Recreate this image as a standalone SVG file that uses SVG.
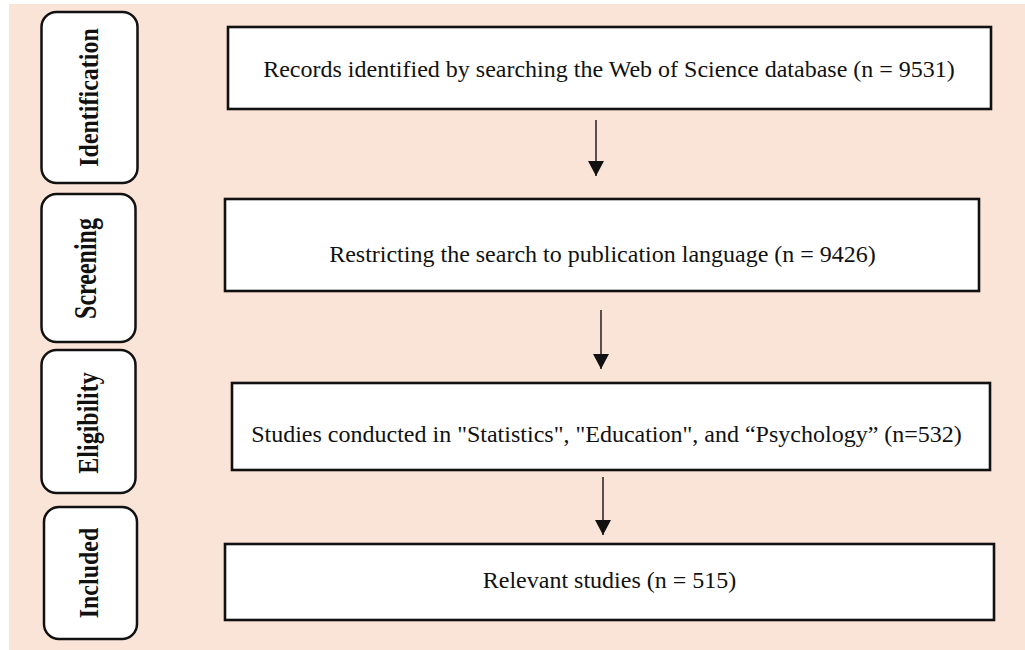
<svg xmlns="http://www.w3.org/2000/svg" width="1025" height="650" viewBox="0 0 1025 650">
  <defs>
    <style>
      .stage { fill: #ffffff; stroke: #111111; stroke-width: 2.5; }
      .step { fill: #ffffff; stroke: #111111; stroke-width: 2.6; }
      .stage-label { font-family: "Liberation Serif", "Times New Roman", serif; font-weight: bold; font-size: 24px; fill: #111111; text-anchor: middle; }
      .step-label { font-family: "Liberation Serif", "Times New Roman", serif; font-size: 24px; fill: #111111; text-anchor: middle; }
      .flow { stroke: #111111; stroke-width: 1.4; fill: none; }
    </style>
    <!-- filled triangular head, tip at the end of the line -->
    <marker id="arrowhead" markerUnits="userSpaceOnUse" markerWidth="15" markerHeight="16" refX="15" refY="8" orient="auto" viewBox="0 0 15 16">
      <path d="M0,0 L15,8 L0,16 Z" fill="#111111"/>
    </marker>
  </defs>

  <!-- page background -->
  <rect x="9" y="4" width="1016" height="646" fill="#fae3d7"/>

  <!-- stage labels -->
  <g id="stage-identification">
    <rect class="stage" x="41.5" y="12" width="96" height="171" rx="15"/>
    <text class="stage-label" transform="translate(98 97.5) rotate(-90) scale(1 1.18)">Identification</text>
  </g>
  <g id="stage-screening">
    <rect class="stage" x="41.5" y="194" width="94" height="148" rx="15"/>
    <text class="stage-label" transform="translate(95.5 268.5) rotate(-90) scale(1 1.32)">Screening</text>
  </g>
  <g id="stage-eligibility">
    <rect class="stage" x="41.5" y="350" width="94" height="143" rx="15"/>
    <text class="stage-label" transform="translate(98 423) rotate(-90) scale(1 1.25)">Eligibility</text>
  </g>
  <g id="stage-included">
    <rect class="stage" x="44" y="507" width="93" height="132" rx="15"/>
    <text class="stage-label" transform="translate(98 573) rotate(-90) scale(1 1.1)">Included</text>
  </g>

  <!-- flow steps -->
  <g id="step-identified">
    <rect class="step" x="228" y="27" width="763" height="82"/>
    <text class="step-label" x="609" y="77">Records identified by searching the Web of Science database (n = 9531)</text>
  </g>
  <g id="step-language">
    <rect class="step" x="225" y="199" width="754" height="92"/>
    <text class="step-label" x="602.5" y="262">Restricting the search to publication language (n = 9426)</text>
  </g>
  <g id="step-fields">
    <rect class="step" x="232" y="383" width="758" height="87"/>
    <text class="step-label" x="606.5" y="442">Studies conducted in "Statistics", "Education", and “Psychology” (n=532)</text>
  </g>
  <g id="step-included">
    <rect class="step" x="225" y="544" width="769" height="76"/>
    <text class="step-label" x="609.5" y="588">Relevant studies (n = 515)</text>
  </g>

  <!-- connectors -->
  <g id="connectors">
    <line class="flow" x1="596" y1="120" x2="596" y2="176" marker-end="url(#arrowhead)"/>
    <line class="flow" x1="601" y1="310" x2="601" y2="369" marker-end="url(#arrowhead)"/>
    <line class="flow" x1="603" y1="477" x2="603" y2="535" marker-end="url(#arrowhead)"/>
  </g>
</svg>
